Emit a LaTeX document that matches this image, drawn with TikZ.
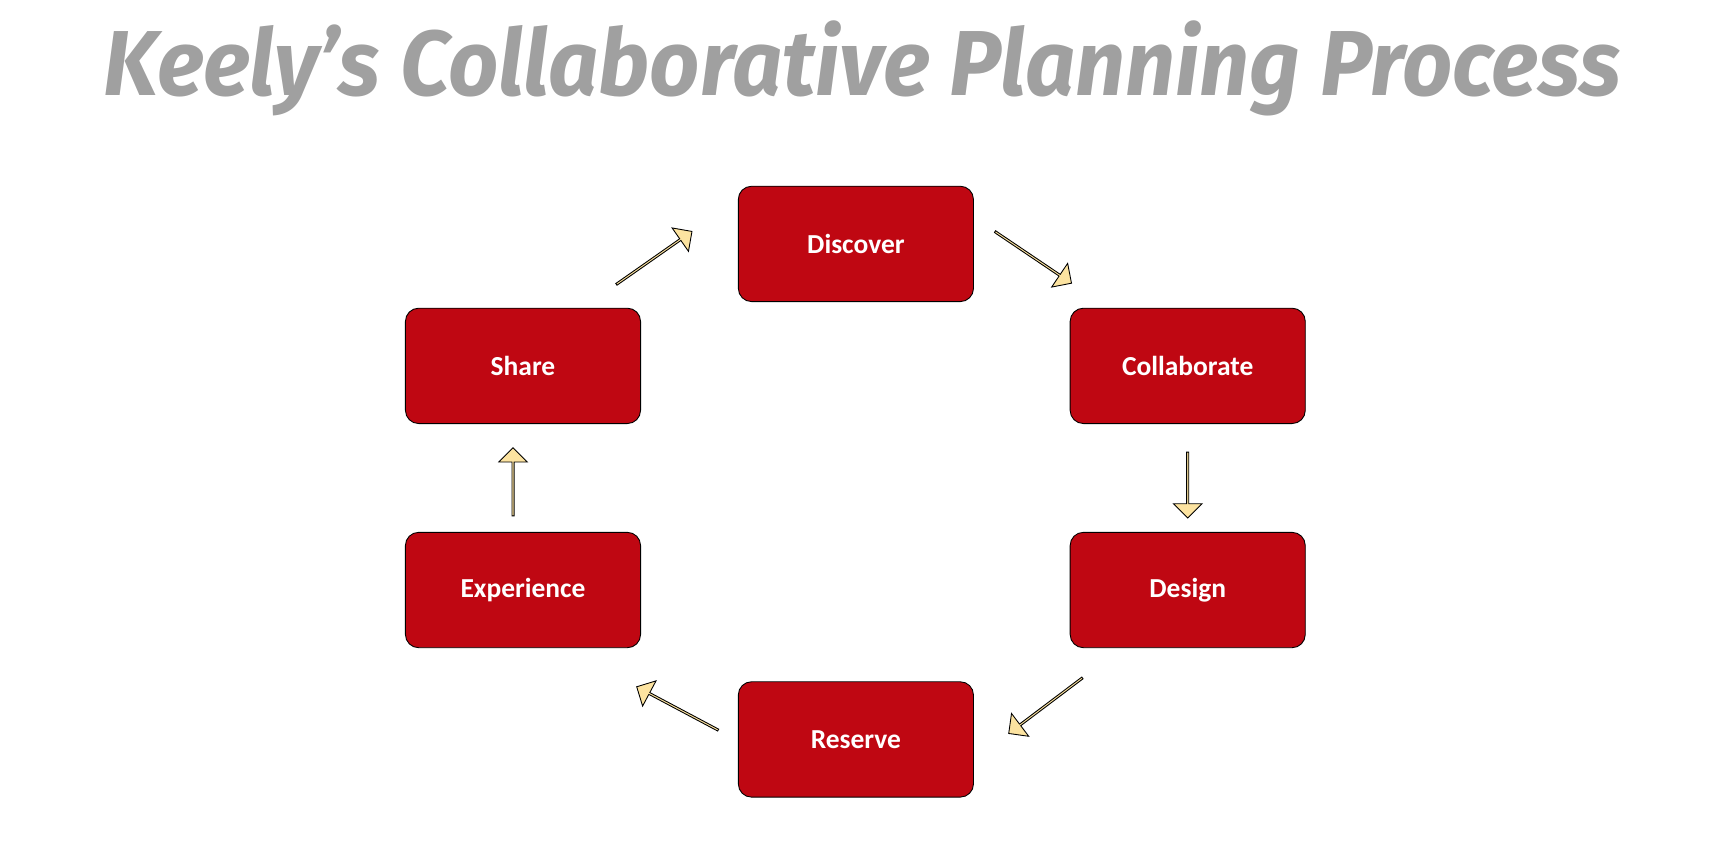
\documentclass[tikz,border=0pt]{standalone}
\usepackage{fontspec}
\setmainfont{Carlito}
\newfontfamily\titlefont{Fira Sans}
\usetikzlibrary{shapes.arrows}
\definecolor{boxred}{HTML}{BF0712}
\definecolor{arrowyel}{HTML}{FCE3A0}
\definecolor{titlegray}{HTML}{A0A0A0}
\begin{document}
\begin{tikzpicture}[x=1pt,y=-1pt,
  stepbox/.style={draw=black,fill=boxred,rounded corners=12pt,minimum width=214pt,minimum height=105pt,text=white,font=\fontsize{25}{30}\selectfont\bfseries,line width=0.8pt},
  blockarrow/.style={single arrow,draw=black,fill=arrowyel,line width=0.8pt,minimum height=84pt,minimum width=26pt,single arrow head extend=5pt,inner sep=0pt}]
\useasboundingbox (0,0) rectangle (1560,780);
\node[text=titlegray] (title) at (785,62) {\resizebox{1380pt}{68pt}{\titlefont\itshape\bfseries Keely’s Collaborative Planning Process}};
\node[stepbox] (discover) at (779,222) {Discover};
\node[stepbox] (collab) at (1081,333) {Collaborate};
\node[stepbox] (design) at (1081,537) {Design};
\node[stepbox] (reserve) at (779,673) {Reserve};
\node[stepbox] (exper) at (476,537) {Experience};
\node[stepbox] (share) at (476,333) {Share};
\node[blockarrow,rotate=35] (a1) at (595,235) {};
\node[blockarrow,rotate=-34] (a2) at (940,234) {};
\node[blockarrow,rotate=-90,minimum height=60pt] (a3) at (1081,441) {};
\node[blockarrow,rotate=-143] (a4) at (952,642) {};
\node[blockarrow,rotate=152] (a5) at (617,645) {};
\node[blockarrow,rotate=90,minimum height=62pt] (a6) at (467,439) {};
\end{tikzpicture}
\end{document}
